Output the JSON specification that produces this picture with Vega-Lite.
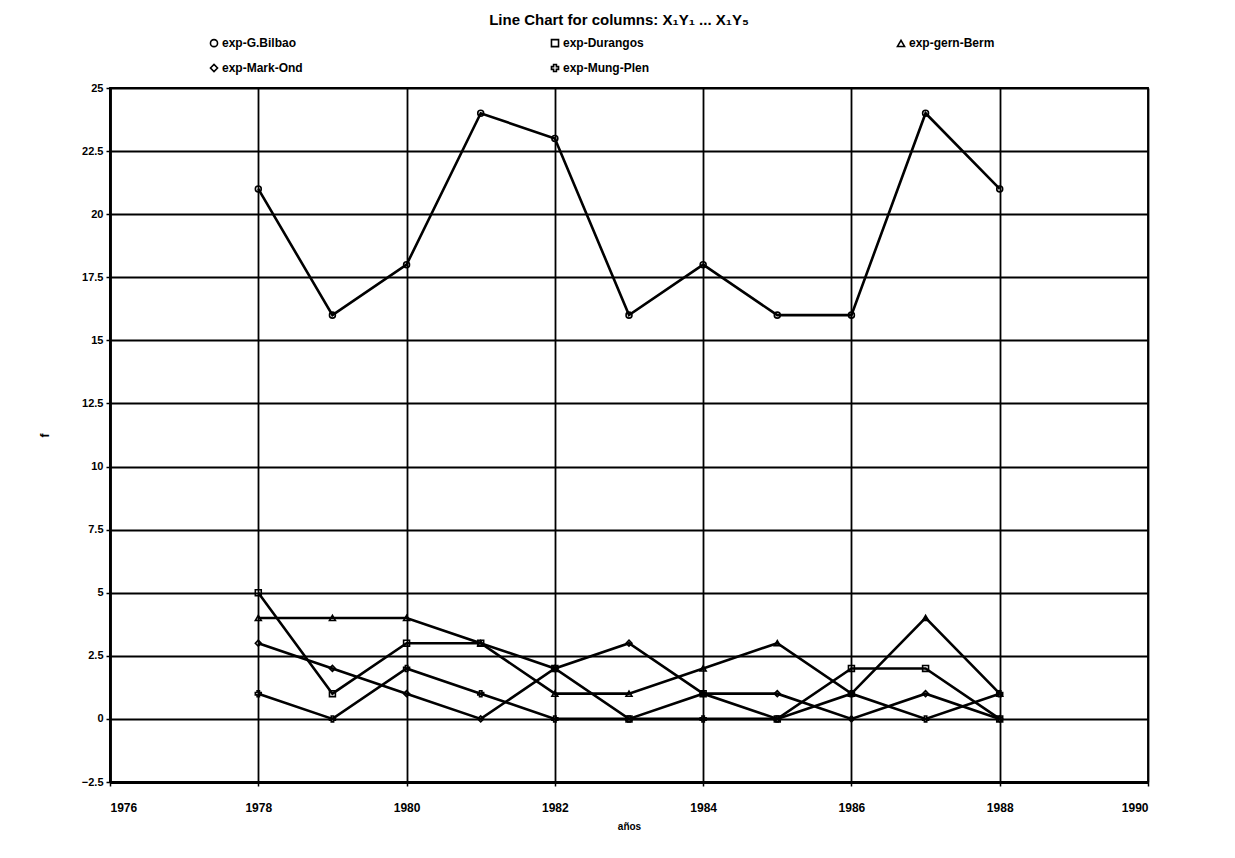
{
  "$schema": "https://vega.github.io/schema/vega-lite/v6.json",
  "width": 1038,
  "height": 694,
  "autosize": {"type": "none"},
  "padding": {"left": 110, "top": 88, "right": 87, "bottom": 76},
  "background": "white",
  "title": {"text": "Line Chart for columns: X₁Y₁ ... X₁Y₅", "font": "Liberation Sans", "fontSize": 15, "fontWeight": "bold", "color": "black", "anchor": "middle", "offset": 9, "dx": -10},
  "config": {"view": {"stroke": "black", "strokeWidth": 1.8}},
  "data": {"values": [
    {"year": 1978, "series": "exp-G.Bilbao", "f": 21},
    {"year": 1979, "series": "exp-G.Bilbao", "f": 16},
    {"year": 1980, "series": "exp-G.Bilbao", "f": 18},
    {"year": 1981, "series": "exp-G.Bilbao", "f": 24},
    {"year": 1982, "series": "exp-G.Bilbao", "f": 23},
    {"year": 1983, "series": "exp-G.Bilbao", "f": 16},
    {"year": 1984, "series": "exp-G.Bilbao", "f": 18},
    {"year": 1985, "series": "exp-G.Bilbao", "f": 16},
    {"year": 1986, "series": "exp-G.Bilbao", "f": 16},
    {"year": 1987, "series": "exp-G.Bilbao", "f": 24},
    {"year": 1988, "series": "exp-G.Bilbao", "f": 21},
    {"year": 1978, "series": "exp-Durangos", "f": 5},
    {"year": 1979, "series": "exp-Durangos", "f": 1},
    {"year": 1980, "series": "exp-Durangos", "f": 3},
    {"year": 1981, "series": "exp-Durangos", "f": 3},
    {"year": 1982, "series": "exp-Durangos", "f": 2},
    {"year": 1983, "series": "exp-Durangos", "f": 0},
    {"year": 1984, "series": "exp-Durangos", "f": 1},
    {"year": 1985, "series": "exp-Durangos", "f": 0},
    {"year": 1986, "series": "exp-Durangos", "f": 2},
    {"year": 1987, "series": "exp-Durangos", "f": 2},
    {"year": 1988, "series": "exp-Durangos", "f": 0},
    {"year": 1978, "series": "exp-gern-Berm", "f": 4},
    {"year": 1979, "series": "exp-gern-Berm", "f": 4},
    {"year": 1980, "series": "exp-gern-Berm", "f": 4},
    {"year": 1981, "series": "exp-gern-Berm", "f": 3},
    {"year": 1982, "series": "exp-gern-Berm", "f": 1},
    {"year": 1983, "series": "exp-gern-Berm", "f": 1},
    {"year": 1984, "series": "exp-gern-Berm", "f": 2},
    {"year": 1985, "series": "exp-gern-Berm", "f": 3},
    {"year": 1986, "series": "exp-gern-Berm", "f": 1},
    {"year": 1987, "series": "exp-gern-Berm", "f": 4},
    {"year": 1988, "series": "exp-gern-Berm", "f": 1},
    {"year": 1978, "series": "exp-Mark-Ond", "f": 3},
    {"year": 1979, "series": "exp-Mark-Ond", "f": 2},
    {"year": 1980, "series": "exp-Mark-Ond", "f": 1},
    {"year": 1981, "series": "exp-Mark-Ond", "f": 0},
    {"year": 1982, "series": "exp-Mark-Ond", "f": 2},
    {"year": 1983, "series": "exp-Mark-Ond", "f": 3},
    {"year": 1984, "series": "exp-Mark-Ond", "f": 1},
    {"year": 1985, "series": "exp-Mark-Ond", "f": 1},
    {"year": 1986, "series": "exp-Mark-Ond", "f": 0},
    {"year": 1987, "series": "exp-Mark-Ond", "f": 1},
    {"year": 1988, "series": "exp-Mark-Ond", "f": 0},
    {"year": 1978, "series": "exp-Mung-Plen", "f": 1},
    {"year": 1979, "series": "exp-Mung-Plen", "f": 0},
    {"year": 1980, "series": "exp-Mung-Plen", "f": 2},
    {"year": 1981, "series": "exp-Mung-Plen", "f": 1},
    {"year": 1982, "series": "exp-Mung-Plen", "f": 0},
    {"year": 1983, "series": "exp-Mung-Plen", "f": 0},
    {"year": 1984, "series": "exp-Mung-Plen", "f": 0},
    {"year": 1985, "series": "exp-Mung-Plen", "f": 0},
    {"year": 1986, "series": "exp-Mung-Plen", "f": 1},
    {"year": 1987, "series": "exp-Mung-Plen", "f": 0},
    {"year": 1988, "series": "exp-Mung-Plen", "f": 1}
  ]},
  "encoding": {
    "x": {
      "field": "year", "type": "quantitative",
      "scale": {"domain": [1976, 1990], "nice": false, "zero": false},
      "axis": {
        "values": [1976, 1978, 1980, 1982, 1984, 1986, 1988, 1990],
        "format": "d",
        "title": "años",
        "titleFont": "Liberation Sans", "titleFontSize": 10, "titleFontWeight": "bold", "titleColor": "black", "titlePadding": 8,
        "labelFont": "Liberation Sans Narrow, Liberation Sans", "labelFontSize": 12, "labelFontWeight": "bold", "labelColor": "black", "labelPadding": 16,
        "grid": true, "gridColor": "black", "gridWidth": 1.8, "gridOpacity": 1,
        "domainColor": "black", "domainWidth": 2.8,
        "tickColor": "black", "tickSize": 4, "tickWidth": 1.5
      }
    },
    "y": {
      "field": "f", "type": "quantitative",
      "scale": {"domain": [-2.5, 25], "nice": false, "zero": false},
      "axis": {
        "values": [-2.5, 0, 2.5, 5, 7.5, 10, 12.5, 15, 17.5, 20, 22.5, 25],
        "format": ".1~f",
        "title": "f",
        "titleFont": "Liberation Sans", "titleFontSize": 12, "titleFontWeight": "bold", "titleColor": "black", "titlePadding": 30,
        "labelFont": "Liberation Sans", "labelFontSize": 11, "labelFontWeight": "bold", "labelColor": "black", "labelPadding": 3,
        "grid": true, "gridColor": "black", "gridWidth": 1.8, "gridOpacity": 1,
        "domainColor": "black", "domainWidth": 2.8,
        "tickColor": "black", "tickSize": 4, "tickWidth": 1.5
      }
    }
  },
  "layer": [
    {
      "mark": {"type": "line", "color": "black", "strokeWidth": 2.6},
      "encoding": {"detail": {"field": "series", "type": "nominal"}}
    },
    {
      "mark": {"type": "point", "filled": false, "color": "black", "size": 35, "strokeWidth": 1.6, "opacity": 1},
      "encoding": {
        "shape": {
          "field": "series", "type": "nominal",
          "scale": {
            "domain": ["exp-G.Bilbao", "exp-Durangos", "exp-gern-Berm", "exp-Mark-Ond", "exp-Mung-Plen"],
            "range": ["circle", "square", "triangle-up", "diamond", "cross"]
          },
          "legend": {
            "orient": "none", "legendX": 98, "legendY": -51,
            "direction": "horizontal", "columns": 3, "title": null,
            "columnPadding": 245, "rowPadding": 11, "padding": 0,
            "labelFont": "Liberation Sans", "labelFontSize": 12, "labelFontWeight": "bold", "labelColor": "black", "labelOffset": 2,
            "symbolSize": 50, "symbolStrokeWidth": 1.6, "symbolStrokeColor": "black", "symbolFillColor": "white", "symbolOpacity": 1
          }
        }
      }
    }
  ]
}
